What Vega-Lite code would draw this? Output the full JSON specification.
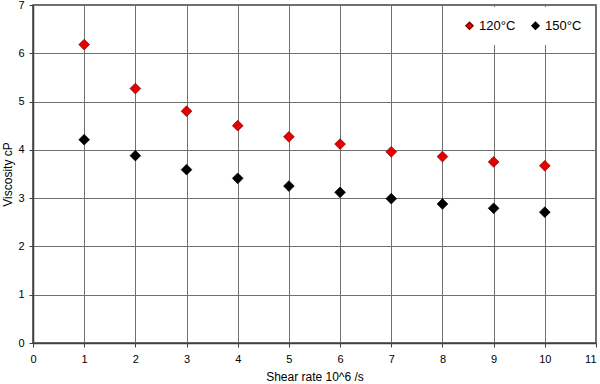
{
  "$schema": "https://vega.github.io/schema/vega-lite/v6.json",
  "autosize": "none",
  "padding": {"left": 33, "top": 5, "right": 4, "bottom": 41},
  "width": 563,
  "height": 338,
  "background": "white",
  "config": {
    "font": "Liberation Sans",
    "view": {"stroke": "#404040", "strokeWidth": 1.5},
    "axis": {
      "gridColor": "#707070",
      "gridWidth": 1,
      "domainColor": "#404040",
      "domainWidth": 1.5,
      "tickColor": "#404040",
      "tickSize": 4,
      "labelFontSize": 11,
      "labelColor": "#000000",
      "titleFontSize": 12,
      "titleFontWeight": "normal",
      "titleColor": "#000000"
    }
  },
  "data": {
    "values": [
      {"shear": 1, "viscosity": 6.18, "temp": "120°C"},
      {"shear": 2, "viscosity": 5.27, "temp": "120°C"},
      {"shear": 3, "viscosity": 4.80, "temp": "120°C"},
      {"shear": 4, "viscosity": 4.50, "temp": "120°C"},
      {"shear": 5, "viscosity": 4.27, "temp": "120°C"},
      {"shear": 6, "viscosity": 4.12, "temp": "120°C"},
      {"shear": 7, "viscosity": 3.96, "temp": "120°C"},
      {"shear": 8, "viscosity": 3.86, "temp": "120°C"},
      {"shear": 9, "viscosity": 3.75, "temp": "120°C"},
      {"shear": 10, "viscosity": 3.67, "temp": "120°C"},
      {"shear": 1, "viscosity": 4.21, "temp": "150°C"},
      {"shear": 2, "viscosity": 3.88, "temp": "150°C"},
      {"shear": 3, "viscosity": 3.59, "temp": "150°C"},
      {"shear": 4, "viscosity": 3.41, "temp": "150°C"},
      {"shear": 5, "viscosity": 3.25, "temp": "150°C"},
      {"shear": 6, "viscosity": 3.12, "temp": "150°C"},
      {"shear": 7, "viscosity": 2.99, "temp": "150°C"},
      {"shear": 8, "viscosity": 2.88, "temp": "150°C"},
      {"shear": 9, "viscosity": 2.79, "temp": "150°C"},
      {"shear": 10, "viscosity": 2.71, "temp": "150°C"}
    ]
  },
  "mark": {"type": "point", "shape": "diamond", "filled": true, "size": 115, "opacity": 1, "strokeWidth": 0.7},
  "encoding": {
    "x": {
      "field": "shear", "type": "quantitative",
      "scale": {"domain": [0, 11], "nice": false},
      "axis": {"values": [0,1,2,3,4,5,6,7,8,9,10,11], "title": "Shear rate 10^6 /s", "labelPadding": 6, "titlePadding": 7, "labelFlush": false,
        "labelAlign": {"expr": "datum.value == 11 ? 'right' : 'center'"}}
    },
    "y": {
      "field": "viscosity", "type": "quantitative",
      "scale": {"domain": [0, 7], "nice": false},
      "axis": {"values": [0,1,2,3,4,5,6,7], "title": "Viscosity cP", "labelPadding": 5, "titlePadding": 3, "labelFlush": false}
    },
    "color": {
      "field": "temp", "type": "nominal",
      "scale": {"domain": ["120°C", "150°C"], "range": ["#e60000", "#000000"]},
      "legend": {
        "title": null, "orient": "top-right", "direction": "horizontal",
        "fillColor": "white", "padding": 12, "offset": 2,
        "labelFontSize": 13, "symbolSize": 50, "symbolType": "diamond",
        "columnPadding": 12, "labelOffset": 3
      }
    },
    "stroke": {
      "field": "temp", "type": "nominal",
      "scale": {"domain": ["120°C", "150°C"], "range": ["#7a0000", "#000000"]},
      "legend": null
    }
  }
}
